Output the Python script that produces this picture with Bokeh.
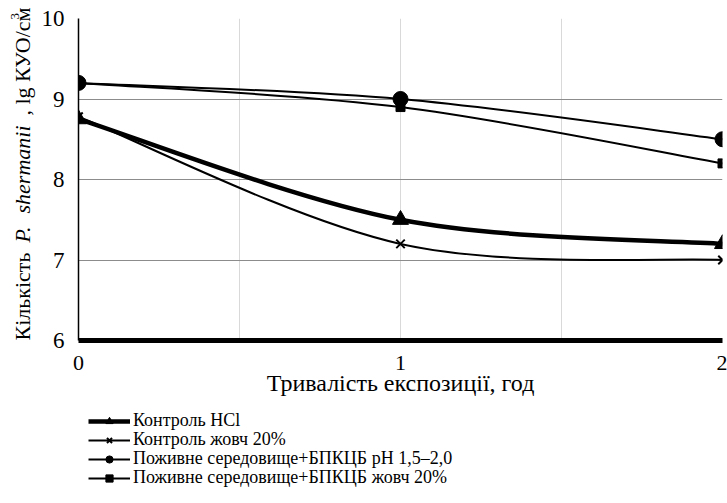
import numpy as np
from bokeh.plotting import figure
from bokeh.models import Range1d, FixedTicker, Legend, LegendItem
from bokeh.layouts import row, column
from bokeh.core.properties import value
from bokeh.embed import file_html
from bokeh.resources import INLINE

hours = [0, 1, 2]
ctrl_hcl = [8.75, 7.5, 7.2]
ctrl_bile = [8.78, 7.2, 7.0]
medium_ph = [9.2, 9.0, 8.5]
medium_bile = [9.2, 8.9, 8.2]
names = ["Контроль HCl", "Контроль жовч 20%",
         "Поживне середовище+БПКЦБ pH 1,5–2,0",
         "Поживне середовище+БПКЦБ жовч 20%"]
x_ticks = [0, 1, 2]
y_ticks = [6, 7, 8, 9, 10]
y_title = ["Кількість", "P.", "shermanii", ", lg КУО/см", "3"]

FONT = "Liberation Serif"

LEFT_W = 38

# ---------------- main chart ----------------
p = figure(width=727 - LEFT_W, height=400, output_backend="svg", toolbar_location=None,
           x_range=Range1d(0, 2), y_range=Range1d(6, 10),
           min_border_left=78 - LEFT_W, min_border_right=5, min_border_top=18,
           min_border_bottom=60)
p.outline_line_color = None

p.xgrid.ticker = FixedTicker(ticks=[0.5, 1, 1.5, 2])
p.xgrid.grid_line_color = "#d9d9d9"
p.ygrid.ticker = FixedTicker(ticks=[7, 8, 9, 10])
p.ygrid.grid_line_color = "#8c8c8c"

p.xaxis.ticker = FixedTicker(ticks=x_ticks)
p.xaxis.axis_line_width = 5
p.xaxis.axis_line_color = "black"
p.xaxis.major_tick_line_color = None
p.xaxis.minor_tick_line_color = None
p.xaxis.major_label_text_font = FONT
p.xaxis.major_label_text_font_size = "22px"
p.xaxis.major_label_text_color = "black"
p.xaxis.major_label_standoff = 9
p.xaxis.axis_label = "Тривалість експозиції, год"
p.xaxis.axis_label_text_font = FONT
p.xaxis.axis_label_text_font_style = "normal"
p.xaxis.axis_label_text_font_size = "24px"
p.xaxis.axis_label_text_color = "black"
p.xaxis.axis_label_standoff = -3

p.yaxis.ticker = FixedTicker(ticks=y_ticks)
p.yaxis.axis_line_width = 1.5
p.yaxis.axis_line_color = "black"
p.yaxis.major_tick_line_color = None
p.yaxis.minor_tick_line_color = None
p.yaxis.major_tick_out = 0
p.yaxis.major_tick_in = 0
p.yaxis.minor_tick_out = 0
p.yaxis.major_label_text_font = FONT
p.yaxis.major_label_text_font_size = "23px"
p.yaxis.major_label_text_color = "black"
p.yaxis.major_label_standoff = 14


def bez(xs, ys):
    """Excel-style smoothed line: cubic Bezier control points from the data."""
    xs = np.asarray(xs, float); ys = np.asarray(ys, float)
    n = len(xs)
    out = dict(x0=[], y0=[], x1=[], y1=[], cx0=[], cy0=[], cx1=[], cy1=[])
    for i in range(n - 1):
        i0 = max(i - 1, 0); i3 = min(i + 2, n - 1)
        out["x0"].append(xs[i]); out["y0"].append(ys[i])
        out["x1"].append(xs[i + 1]); out["y1"].append(ys[i + 1])
        out["cx0"].append(xs[i] + (xs[i + 1] - xs[i0]) / 6)
        out["cy0"].append(ys[i] + (ys[i + 1] - ys[i0]) / 6)
        out["cx1"].append(xs[i + 1] - (xs[i3] - xs[i]) / 6)
        out["cy1"].append(ys[i + 1] - (ys[i3] - ys[i]) / 6)
    return out


series = [
    (ctrl_hcl, 4.5, "triangle", 16, names[0]),
    (ctrl_bile, 2, "x", 12, names[1]),
    (medium_ph, 2, "circle", 15, names[2]),
    (medium_bile, 2, "square", 9, names[3]),
]

# ---------------- legend panel ----------------
LG_H = 103
lg = figure(width=727 - LEFT_W, height=LG_H, output_backend="svg", toolbar_location=None,
            x_range=Range1d(0, 1), y_range=Range1d(0, 1),
            x_axis_location=None, y_axis_location=None,
            min_border_left=78 - LEFT_W, min_border_right=5, min_border_top=0, min_border_bottom=0)
lg.grid.visible = False
lg.outline_line_color = None

row_centers = [422, 441, 460, 479]   # canvas y of each legend row
for k, (ys, lw, marker, size, name) in enumerate(series):
    p.bezier(line_color="black", line_width=lw, **bez(hours, ys))
    p.scatter(hours, ys, marker=marker, size=size, fill_color="black",
              line_color="black", line_width=2 if marker == "x" else 1)
    proxy_l = lg.line(x=[-10, -9], y=[-10, -9], line_color="black", line_width=lw)
    proxy_s = lg.scatter(x=[-10], y=[-10], marker=marker,
                         size=size - 2 if marker != "square" else size - 1,
                         fill_color="black", line_color="black",
                         line_width=2 if marker == "x" else 1)
    h = 18
    bottom = LG_H - (row_centers[k] - 400) - h / 2
    leg = Legend(items=[LegendItem(label=name, renderers=[proxy_l, proxy_s])],
                 location=(10, bottom), orientation="vertical",
                 glyph_width=42, glyph_height=h, label_height=h, spacing=0,
                 padding=0, margin=0, label_standoff=3,
                 label_text_font=FONT, label_text_font_size="18px",
                 label_text_color="black",
                 border_line_alpha=0, background_fill_alpha=0)
    lg.add_layout(leg)

# ---------------- y-axis title panel ----------------
yl = figure(width=LEFT_W, height=503, output_backend="svg", toolbar_location=None,
            x_range=Range1d(0, LEFT_W), y_range=Range1d(0, 503),
            x_axis_location=None, y_axis_location=None,
            min_border_left=0, min_border_right=0, min_border_top=0, min_border_bottom=0)
yl.grid.visible = False
yl.outline_line_color = None

# start of each piece (canvas y from the top), reading bottom-to-top
piece_start = [340, 242, 213, 115, 19]
piece_x = [22, 22, 22, 22, 14]
piece_style = ["normal", "italic", "italic", "normal", "normal"]
piece_size = ["22px", "22px", "22px", "22px", "13px"]
for txt, px, cy, st, sz in zip(y_title, piece_x, piece_start, piece_style, piece_size):
    yl.text(x=[px], y=[503 - cy], text=[txt], angle=np.pi / 2, text_align="left",
            text_baseline="middle", text_font=value(FONT), text_font_style=st,
            text_font_size=sz, text_color="black")

layout = row(yl, column(p, lg, spacing=0), spacing=0)
open("out.html", "w").write(file_html(layout, INLINE))
